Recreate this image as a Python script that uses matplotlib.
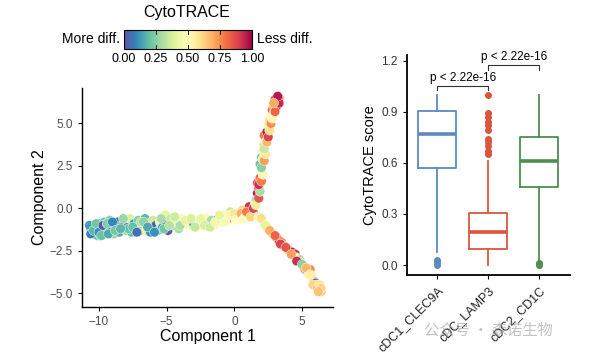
import numpy as np
import matplotlib.pyplot as plt
from matplotlib.colors import Normalize
from matplotlib.cm import ScalarMappable

plt.rcParams['font.family'] = ['Liberation Sans', 'DejaVu Sans']

# cells on the main (left) branch: Component 1, Component 2, CytoTRACE score
trunk_c1 = [-10.6, -10.5, -10.4, -10.3, -10.2, -10.1, -10.0, -9.9, -9.8, -9.7, -9.6, -9.5, -9.4, -9.3,
            -9.2, -9.1, -9.0, -8.9, -8.8, -8.7, -8.6, -8.5, -10.3, -9.9, -9.6, -9.2,
            -8.3, -8.1, -8.0, -7.9, -7.7, -7.6, -7.4, -7.3, -7.1, -7.0, -6.8, -6.6, -6.5, -6.3,
            -6.1, -6.0, -5.8, -5.6, -5.5, -5.3, -5.1, -5.0, -4.9, -7.8, -6.9, -6.2,
            -4.7, -4.5, -4.3, -4.1, -3.9, -3.7, -3.3, -3.0, -2.7, -2.4, -2.1, -1.9, -1.7, -1.5,
            -1.2, -1.0, -0.8, -0.5, -0.3, -0.1, 0.2, 0.4, 0.6, 0.8, 1.0, 1.1, 1.3, 1.5,
            -10.7, -10.6, -10.4, -10.2, -10.0, -9.8, -9.7, -9.4, -9.3, -9.0, -8.8, -8.4, -8.2,
            -7.5, -7.2, -6.7, -6.4, -5.9, -5.4, -5.2, -4.8, -4.4, -4.0, -3.6, -3.2, -2.9, -2.5,
            -2.2, -1.8, -1.4, -1.1, -0.7, -0.4, 0.0, 0.1, 0.5, 0.7, 0.9, 1.2, 1.4]
trunk_c2 = [-1.2, -1.4, -1.0, -1.5, -1.2, -1.6, -0.9, -1.3, -1.1, -1.5, -0.8, -1.2, -1.4, -1.0,
            -0.7, -1.3, -1.1, -1.5, -0.9, -1.2, -0.8, -1.4, -1.3, -1.6, -1.0, -1.4,
            -1.0, -0.8, -1.3, -1.1, -0.6, -1.4, -0.9, -1.2, -0.7, -1.3, -1.0, -0.6, -1.3, -0.9,
            -1.2, -0.7, -1.0, -1.3, -0.8, -1.1, -0.4, -0.9, -1.3, -1.2, -0.8, -1.4,
            -0.6, -1.0, -0.8, -1.2, -0.6, -0.9, -1.0, -0.9, -0.8, -1.0, -0.6, -0.9, -0.7, -1.0,
            -0.6, -0.8, -0.4, -0.6, -0.2, -0.6, -0.3, -0.6, -0.1, -0.4, -0.5, 0.1, -0.2, 0.2,
            -1.0, -1.5, -1.3, -0.9, -1.4, -1.6, -1.0, -0.9, -1.5, -0.8, -1.3, -1.2, -0.6,
            -1.1, -1.4, -0.8, -1.1, -1.4, -0.6, -1.2, -1.0, -0.5, -1.0, -0.7, -0.6, -1.1, -0.6,
            -1.0, -1.1, -0.8, -0.4, -0.8, -0.4, -0.3, -0.7, -0.3, -0.6, -0.2, -0.5, 0.0]
trunk_s = [0.15, 0.10, 0.20, 0.08, 0.25, 0.18, 0.12, 0.05, 0.30, 0.15, 0.22, 0.02, 0.20, 0.35,
           0.25, 0.12, 0.18, 0.28, 0.08, 0.33, 0.05, 0.16, 0.04, 0.22, 0.28, 0.10,
           0.22, 0.03, 0.30, 0.14, 0.38, 0.20, 0.12, 0.40, 0.25, 0.05, 0.32, 0.18, 0.42, 0.10,
           0.28, 0.36, 0.02, 0.24, 0.45, 0.15, 0.40, 0.06, 0.03, 0.20, 0.30, 0.12,
           0.35, 0.26, 0.44, 0.30, 0.48, 0.38, 0.46, 0.05, 0.50, 0.42, 0.52, 0.40, 0.30, 0.48,
           0.08, 0.45, 0.55, 0.50, 0.35, 0.75, 0.60, 0.58, 0.62, 0.55, 0.70, 0.92, 0.60, 0.45,
           0.14, 0.08, 0.18, 0.22, 0.12, 0.20, 0.03, 0.24, 0.16, 0.10, 0.22, 0.18, 0.28,
           0.20, 0.06, 0.26, 0.16, 0.12, 0.30, 0.22, 0.32, 0.36, 0.30, 0.40, 0.38, 0.34, 0.42,
           0.38, 0.36, 0.44, 0.40, 0.46, 0.52, 0.58, 0.50, 0.70, 0.48, 0.78, 0.62, 0.88]

# cells on the upper branch
up_c1 = [1.6, 1.7, 1.8, 1.7, 1.9, 2.0, 1.9, 2.0, 2.1, 2.2, 2.3, 2.2, 2.4, 2.5, 2.6, 2.7, 2.8,
         2.9, 3.0, 3.1, 3.2, 3.1, 3.3, 2.9, 2.4, 2.1,
         1.6, 1.8, 1.9, 1.8, 2.0, 2.1, 2.0, 2.2, 2.3, 2.2, 2.4, 2.5, 2.6, 2.7, 2.8, 3.0,
         3.0, 3.3, 3.2, 2.9]
up_c2 = [0.5, 0.9, 1.2, 1.5, 1.8, 2.2, 2.6, 3.0, 3.4, 3.7, 4.0, 4.3, 4.5, 4.9, 5.2, 5.5, 5.8,
         6.0, 6.2, 6.4, 6.3, 6.0, 6.5, 5.6, 4.0, 2.9,
         0.2, 0.6, 1.0, 1.4, 1.6, 2.0, 2.4, 2.8, 3.2, 3.5, 3.9, 4.2, 4.6, 5.0, 5.3, 5.7,
         6.4, 6.2, 6.6, 6.2]
up_s = [0.30, 0.95, 0.90, 0.85, 0.80, 0.45, 0.20, 0.22, 0.55, 0.65, 0.40, 0.78, 0.95, 0.55,
        0.60, 0.48, 0.85, 0.70, 0.92, 0.97, 0.88, 0.95, 0.80, 0.60, 0.50, 0.58,
        0.40, 0.85, 0.30, 0.92, 0.78, 0.52, 0.25, 0.72, 0.58, 0.35, 0.68, 0.88, 0.60, 0.75,
        0.52, 0.82, 0.90, 0.93, 0.96, 0.70]

# cells on the lower branch
down_c1 = [1.8, 2.1, 2.5, 2.8, 3.1, 3.3, 3.5, 3.7, 3.9, 4.1, 4.3, 4.5, 4.6, 4.8, 4.9, 5.1, 5.2,
           5.4, 5.5, 5.7, 5.8, 5.9, 6.0, 6.1, 6.2, 6.3, 6.4, 5.6, 4.4,
           2.0, 2.3, 2.6, 3.0, 3.4, 3.8, 4.2, 4.6, 5.0, 5.3, 5.6, 5.8, 6.1, 6.3, 6.4, 6.2]
down_c2 = [-0.5, -0.8, -1.2, -1.5, -1.7, -1.9, -2.0, -2.2, -2.4, -2.5, -2.6, -2.7, -2.9, -3.0,
           -3.2, -3.4, -3.6, -3.7, -3.9, -4.0, -4.2, -4.3, -4.4, -4.5, -4.7, -4.8, -4.9, -3.6, -2.9,
           -0.6, -1.0, -1.3, -1.6, -2.1, -2.3, -2.7, -3.1, -3.3, -3.5, -3.9, -4.5, -4.7, -4.5,
           -4.7, -4.9]
down_s = [0.55, 0.50, 0.40, 0.35, 0.80, 0.90, 0.75, 0.70, 0.55, 0.82, 0.95, 0.92, 0.60, 0.30,
          0.65, 0.05, 0.72, 0.20, 0.55, 0.65, 0.45, 0.70, 0.05, 0.60, 0.68, 0.62, 0.64, 0.75, 0.50,
          0.60, 0.40, 0.70, 0.82, 0.88, 0.85, 0.72, 0.92, 0.25, 0.68, 0.55, 0.62, 0.64, 0.58,
          0.62, 0.66]

# trajectory backbone
line_trunk_x = [-10.5, -6.0, -3.0, 0.0, 1.5]
line_trunk_y = [-1.2, -0.9, -0.85, -0.5, -0.1]
line_up_x = [1.5, 1.9, 2.1, 2.5, 3.1]
line_up_y = [-0.1, 1.5, 3.0, 4.8, 6.3]
line_down_x = [1.5, 3.5, 6.3]
line_down_y = [-0.1, -2.1, -4.8]

# box plot stats
groups = ['cDC1_CLEC9A', 'cDC_LAMP3', 'cDC2_CD1C']
q1 = [0.57, 0.095, 0.46]
med = [0.77, 0.195, 0.61]
q3 = [0.905, 0.305, 0.75]
wlo = [0.075, 0.0, 0.02]
whi = [1.0, 0.61, 1.0]
fliers = [[0.0, 0.015, 0.03],
          [0.65, 0.67, 0.70, 0.72, 0.74, 0.79, 0.82, 0.84, 0.87, 0.89, 1.0],
          [0.0, 0.01]]
box_colors = ['#5b8bbd', '#d9563c', '#4d8f4f']
pval = 'p < 2.22e-16'

fig = plt.figure(figsize=(5.93, 3.54), dpi=100)
cmap = plt.get_cmap('Spectral_r')
norm = Normalize(0, 1)

# ---- trajectory scatter
ax = fig.add_axes([0.138, 0.133, 0.424, 0.618])
for lx, ly in [(line_trunk_x, line_trunk_y), (line_up_x, line_up_y), (line_down_x, line_down_y)]:
    ax.plot(lx, ly, color='black', lw=1.8, zorder=1)
for c1, c2, sc in [(trunk_c1, trunk_c2, trunk_s), (up_c1, up_c2, up_s), (down_c1, down_c2, down_s)]:
    ax.scatter(c1, c2, c=sc, cmap=cmap, norm=norm, s=48, edgecolors='white',
               linewidths=0.3, zorder=2)
ax.set_xlim(-11.26, 7.3)
ax.set_ylim(-5.8, 7.08)
ax.set_xticks([-10, -5, 0, 5])
ax.set_yticks([-5, -2.5, 0, 2.5, 5])
ax.set_yticklabels(['\u22125.0', '\u22122.5', '0.0', '2.5', '5.0'])
ax.set_xticklabels(['\u221210', '\u22125', '0', '5'])
ax.set_xlabel('Component 1', fontsize=11.5, labelpad=1)
ax.set_ylabel('Component 2', fontsize=11.5, labelpad=2)
for s in ['top', 'right']:
    ax.spines[s].set_visible(False)
for s in ['left', 'bottom']:
    ax.spines[s].set_linewidth(1.0)
ax.tick_params(labelsize=8.5, labelcolor='#4d4d4d', length=3, width=0.8)

# ---- colorbar
cax = fig.add_axes([0.209, 0.862, 0.216, 0.054])
cb = fig.colorbar(ScalarMappable(norm=norm, cmap=cmap), cax=cax, orientation='horizontal')
cb.set_ticks([0, 0.25, 0.5, 0.75, 1.0])
cb.set_ticklabels(['0.00', '0.25', '0.50', '0.75', '1.00'])
cax.tick_params(labelsize=9, length=0, pad=3)
for t in [0.25, 0.5, 0.75]:
    cax.plot([t, t], [0.0, 0.2], color='black', lw=0.6, transform=cax.transAxes)
    cax.plot([t, t], [0.8, 1.0], color='black', lw=0.6, transform=cax.transAxes)
cb.outline.set_linewidth(0.8)
fig.text(0.315, 0.965, 'CytoTRACE', ha='center', va='center', fontsize=11.5)
fig.text(0.202, 0.889, 'More diff.', ha='right', va='center', fontsize=10)
fig.text(0.433, 0.889, 'Less diff.', ha='left', va='center', fontsize=10)

# ---- box plot
bx = fig.add_axes([0.686, 0.223, 0.275, 0.622])
for i, g in enumerate(groups):
    c = box_colors[i]
    st = dict(label=g, q1=q1[i], med=med[i], q3=q3[i], whislo=wlo[i],
              whishi=whi[i], fliers=fliers[i])
    bx.bxp([st], positions=[i + 1], widths=0.75, showcaps=False,
           boxprops=dict(color=c, lw=1.3),
           whiskerprops=dict(color=c, lw=1.3),
           medianprops=dict(color=c, lw=2.6),
           flierprops=dict(marker='o', markerfacecolor=c, markeredgecolor=c, markersize=4))
bx.set_xlim(0.4, 3.6)
bx.set_ylim(-0.059, 1.234)
bx.set_yticks([0, 0.3, 0.6, 0.9, 1.2])
bx.set_yticklabels(['0.0', '0.3', '0.6', '0.9', '1.2'])
bx.set_xticks([1, 2, 3])
bx.set_xticklabels(groups, rotation=45, ha='right', va='top', rotation_mode='anchor')
bx.set_ylabel('CytoTRACE score', fontsize=10.5, labelpad=3)
for s in ['top', 'right']:
    bx.spines[s].set_visible(False)
for s in ['left', 'bottom']:
    bx.spines[s].set_linewidth(1.3)
bx.tick_params(axis='y', labelsize=8.5, labelcolor='#333333', length=3, width=0.8)
bx.tick_params(axis='x', labelsize=9, labelcolor='#222222', length=3, width=0.8)

# significance brackets
bx.plot([1, 1, 2, 2], [1.025, 1.052, 1.052, 1.025], color='#333333', lw=0.8, clip_on=False)
bx.text(1.5, 1.062, pval, ha='center', va='bottom', fontsize=8.5)
bx.plot([2, 2, 3, 3], [1.145, 1.175, 1.175, 1.145], color='#333333', lw=0.8, clip_on=False)
bx.text(2.5, 1.185, pval, ha='center', va='bottom', fontsize=8.5, clip_on=False)

# watermark
fig.text(0.715, 0.068, '公众号 · 森诺生物', fontsize=11, color='#9a9a9a', alpha=0.6,
         family=['Noto Sans CJK SC', 'DejaVu Sans'], ha='left', va='center')

fig.savefig('out.png', dpi=100)
